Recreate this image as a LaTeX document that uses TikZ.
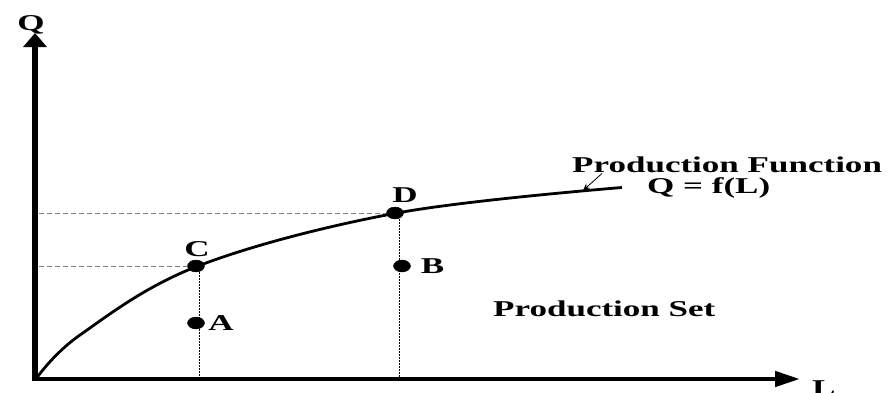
\documentclass[tikz,border=0pt]{standalone}
\usepackage{fontspec}
\setmainfont{Liberation Serif}[FakeStretch=1.55]
\usetikzlibrary{arrows.meta,positioning,shapes.geometric}

\begin{document}
\begin{tikzpicture}[x=1pt,y=1pt,
  dot/.style={draw,fill,ellipse,minimum width=17pt,minimum height=12pt,inner sep=0pt},
  lbl/.style={font=\fontsize{22.6}{24}\selectfont\bfseries,inner sep=0pt},
  guide/.style={dash pattern=on 5pt off 3pt,gray,line width=0.7pt},
  drop/.style={dash pattern=on 1.5pt off 1.5pt,line width=0.9pt}
]
  \useasboundingbox (0,0) rectangle (888,392);

  % Axes
  \coordinate (O) at (36,13);
  \coordinate (qtip) at (35,359);
  \coordinate (ltip) at (800,13);
  \draw[line width=6pt,-{Triangle[length=14pt,width=23pt]}] ([yshift=-2pt]O -| qtip) -- (qtip);
  \draw[line width=4.5pt,-{Triangle[length=25pt,width=15pt]}] ([xshift=-3pt]O) -- (ltip);
  \node[lbl,anchor=base] (qlab) at (31,362) {Q};
  \node[lbl,anchor=north west] (llab) at (812,12) {L};

  % Production function
  \draw[line width=2.8pt] plot[smooth,tension=0.6] coordinates
    {(36,13) (80,57) (198,126) (397,179) (622,204.5)};
  \coordinate (pfpt) at (583,201.5);

  % Points on and under the curve
  \node[dot] (ptC) at (196,126) {};
  \node[dot] (ptD) at (395,179) {};
  \node[dot] (ptA) at (196,69) {};
  \node[dot] (ptB) at (402,126) {};
  \coordinate (dropC) at (199,126);
  \coordinate (dropD) at (399,179);

  \draw[guide] (O |- ptD) ++(3,0) -- (ptD.west);
  \draw[guide] (O |- ptC) ++(3,0) -- (ptC.west);
  \draw[drop] (dropC) -- (dropC |- O);
  \draw[drop] (dropD) -- (dropD |- O);

  \node[lbl,above=3pt of ptC,xshift=1pt] (labC) {C};
  \node[lbl,above=4pt of ptD,xshift=10pt] (labD) {D};
  \node[lbl,right=3.5pt of ptA] (labA) {A};
  \node[lbl,right=10pt of ptB] (labB) {B};

  % Labels
  \node[lbl,anchor=base west] (pflab) at (572,220) {Production Function};
  \node[lbl,anchor=base west] (eqlab) at (647,199) {Q = f(L)};
  \node[lbl,anchor=base west] (setlab) at (493,76) {Production Set};
  \draw[line width=0.8pt,-{Stealth[length=7pt,width=6pt]}] ([xshift=30pt,yshift=-1pt]pflab.south west) -- (pfpt);
\end{tikzpicture}
\end{document}
